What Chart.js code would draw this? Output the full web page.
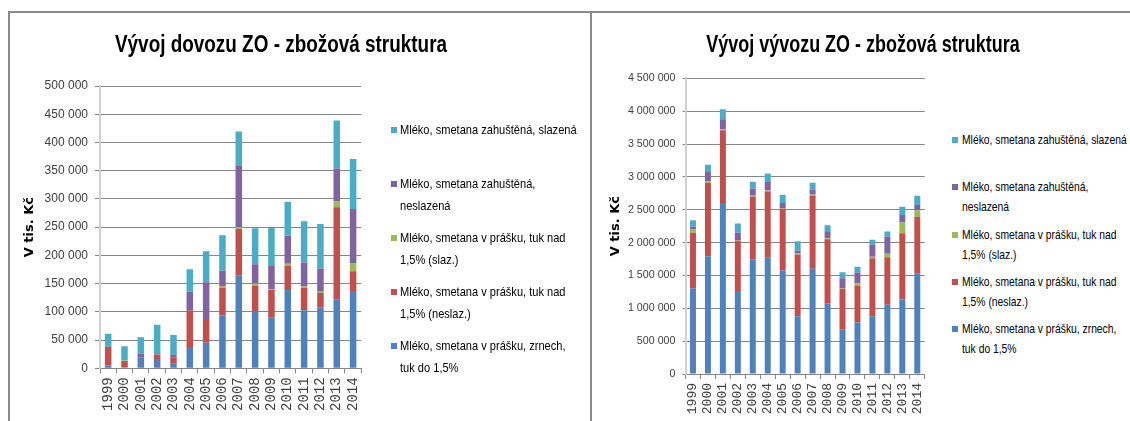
<!DOCTYPE html>
<html>
<head>
<meta charset="utf-8">
<script src="https://cdn.jsdelivr.net/npm/chart.js@4.4.0/dist/chart.umd.min.js"></script>
<style>
  html, body { margin: 0; padding: 0; background: #fff; }
  body { width: 1130px; height: 421px; overflow: hidden; position: relative; font-family: 'Liberation Sans', Arial, sans-serif; }
  .line { position: absolute; background: #8a8a8a; }
  #w1 { position: absolute; left: 9px; top: 12px; width: 365px; height: 409px; }
  #w2 { position: absolute; left: 593px; top: 12px; width: 344px; height: 409px; }
  .title { position: absolute; white-space: nowrap; color: #000; font-weight: bold; transform: translateX(-50%) scaleX(0.766); }
  #t1 { left: 281px; top: 32.4px; font-size: 24.7px; line-height: 24.7px; }
  #t2 { left: 863px; top: 33.2px; font-size: 23.44px; line-height: 23.44px; }
  .legend { position: absolute; color: #000; }
  .legend .item { display: flex; align-items: flex-start; }
  .legend .box { flex: none; width: 6px; height: 6px; }
  .legend .txt { transform: scaleX(0.82); transform-origin: 0 0; }
  #lg1 { left: 391px; top: 119px; font-size: 13.5px; }
  #lg1 .item { height: 44px; margin-bottom: 10px; }
  #lg1 .txt { line-height: 22px; width: 219px; margin-left: 3px; }
  #lg1 .box { margin-top: 8px; }
  #lg2 { left: 952px; top: 130px; font-size: 12.6px; }
  #lg2 .item { height: 40px; margin-bottom: 7.3px; }
  #lg2 .txt { line-height: 20px; width: 205px; margin-left: 4px; }
  #lg2 .box { margin-top: 7px; }
</style>
</head>
<body>
<div class="line" style="left:8px; top:11px; width:1122px; height:1.5px;"></div>
<div class="line" style="left:8px; top:11px; width:1.5px; height:410px;"></div>
<div class="line" style="left:590px; top:11px; width:2px; height:410px;"></div>
<div id="w1"><canvas id="c1"></canvas></div>
<div id="w2"><canvas id="c2"></canvas></div>
<div id="t1" class="title"></div>
<div id="t2" class="title"></div>
<div id="lg1" class="legend"></div>
<div id="lg2" class="legend"></div>
<script>
// ---- data ----
const years = ['1999','2000','2001','2002','2003','2004','2005','2006','2007','2008','2009','2010','2011','2012','2013','2014'];

const seriesNames = [
  'Mléko, smetana v prášku, zrnech, tuk do 1,5%',
  'Mléko, smetana v prášku, tuk nad 1,5% (neslaz.)',
  'Mléko, smetana v prášku, tuk nad 1,5% (slaz.)',
  'Mléko, smetana zahuštěná, neslazená',
  'Mléko, smetana zahuštěná, slazená'
];

// Dovoz (import), tis. Kč
const dovozZrnech   = [5000, 2000, 18700, 16400, 8200, 37600, 45200, 93600, 164800, 100000, 89400, 138800, 103000, 108300, 122400, 137000];
const dovozNeslaz   = [33000, 11000, 1500, 7600, 10500, 65000, 42000, 49000, 82000, 46600, 49400, 42400, 39400, 25000, 163000, 34800];
const dovozSlaz     = [0, 1000, 0, 0, 0, 0, 0, 3000, 3500, 3500, 1300, 4000, 3000, 2500, 10000, 13600];
const dovozZahNesl  = [0, 0, 6000, 1000, 5300, 33000, 65000, 27000, 108000, 34000, 42400, 50000, 42000, 40600, 58300, 96600];
const dovozZahSlaz  = [23000, 25000, 29000, 52000, 35000, 40000, 55000, 63000, 61000, 64000, 66000, 60000, 73000, 79400, 85000, 88800];

// Vývoz (export), tis. Kč
const vyvozZrnech   = [1305000, 1793000, 2601000, 1265000, 1747000, 1768000, 1575000, 878000, 1600000, 1076000, 675000, 782000, 878000, 1052000, 1133000, 1534000];
const vyvozNeslaz   = [845000, 1119000, 1108000, 762000, 951000, 1011000, 940000, 941000, 1118000, 976000, 621000, 564000, 884000, 725000, 1010000, 859000];
const vyvozSlaz     = [50000, 20000, 15000, 10000, 25000, 15000, 9000, 15000, 15000, 15000, 9000, 35000, 22000, 52000, 163000, 96000];
const vyvozZahNesl  = [40000, 153000, 152000, 117000, 97000, 127000, 77000, 46000, 76000, 107000, 152000, 163000, 182000, 259000, 112000, 81000];
const vyvozZahSlaz  = [100000, 100000, 153000, 137000, 107000, 132000, 127000, 142000, 102000, 91000, 92000, 87000, 77000, 81000, 127000, 143000];

const titleDovoz = 'Vývoj dovozu ZO - zbožová struktura';
const titleVyvoz = 'Vývoj vývozu ZO - zbožová struktura';
const axisTitle = 'V tis. Kč';

// ---- styling ----
const colors = ['#4F81BD', '#C0504D', '#9BBB59', '#8064A2', '#4BACC6'];
const fmt = v => String(v).replace(/\B(?=(\d{3})+(?!\d))/g, ' ');

function makeDatasets(arrays) {
  return arrays.map((arr, i) => ({
    label: seriesNames[i],
    data: arr,
    backgroundColor: colors[i],
    borderWidth: 0,
    barPercentage: 0.4,
    categoryPercentage: 1.0
  }));
}

function htmlLegend(id) {
  return {
    id: 'htmlLegend_' + id,
    afterUpdate(chart) {
      const el = document.getElementById(id);
      el.innerHTML = '';
      const items = Chart.defaults.plugins.legend.labels.generateLabels(chart).slice().reverse();
      items.forEach(it => {
        const row = document.createElement('div');
        row.className = 'item';
        const box = document.createElement('span');
        box.className = 'box';
        box.style.background = it.fillStyle;
        const txt = document.createElement('div');
        txt.className = 'txt';
        txt.textContent = it.text;
        row.appendChild(box);
        row.appendChild(txt);
        el.appendChild(row);
      });
    }
  };
}

function makeChart(canvasId, legendId, titleId, cfg) {
  document.getElementById(titleId).textContent = cfg.title;
  return new Chart(document.getElementById(canvasId), {
    type: 'bar',
    data: { labels: years, datasets: makeDatasets(cfg.series) },
    options: {
      responsive: true,
      maintainAspectRatio: false,
      animation: false,
      layout: { padding: { left: 0, right: cfg.padRight, top: cfg.padTop, bottom: 0 } },
      plugins: {
        legend: { display: false },
        tooltip: { enabled: false },
        title: { display: false }
      },
      scales: {
        x: {
          stacked: true,
          offset: true,
          grid: { offset: true, drawOnChartArea: false, drawTicks: true, tickLength: 5, color: '#868686', lineWidth: 1 },
          border: { display: true, color: '#868686', width: 1 },
          ticks: {
            autoSkip: false, minRotation: 90, maxRotation: 90, padding: 4,
            color: '#404040', font: { family: "'Liberation Mono', 'DejaVu Sans Mono', monospace", size: cfg.xFont }
          },
          afterFit: s => { s.height = cfg.xHeight; }
        },
        y: {
          stacked: true,
          min: 0,
          max: cfg.max,
          grid: { color: '#868686', lineWidth: 1, drawTicks: true, tickLength: cfg.yTick },
          border: { display: true, color: '#d0d0d0', width: 2 },
          ticks: {
            stepSize: cfg.step, padding: 7, color: '#404040',
            font: { family: "'Liberation Sans', Arial, sans-serif", size: cfg.yFont },
            callback: v => fmt(v)
          },
          title: {
            display: true, text: axisTitle, color: '#000',
            font: { family: "'DejaVu Sans', sans-serif", size: 13, weight: 'bold', lineHeight: 1.2 },
            padding: { top: cfg.yTitlePad, bottom: 0 }
          },
          afterFit: s => { s.width = cfg.yWidth; }
        }
      }
    },
    plugins: [htmlLegend(legendId)]
  });
}

makeChart('c1', 'lg1', 't1', {
  series: [dovozZrnech, dovozNeslaz, dovozSlaz, dovozZahNesl, dovozZahSlaz],
  title: titleDovoz,
  max: 500000, step: 50000,
  padTop: 74, padRight: 3.3, yWidth: 91, yTitlePad: 13.2, yTick: 5, yFont: 12,
  xHeight: 52.7, xFont: 14
});

makeChart('c2', 'lg2', 't2', {
  series: [vyvozZrnech, vyvozNeslaz, vyvozSlaz, vyvozZahNesl, vyvozZahSlaz],
  title: titleVyvoz,
  max: 4500000, step: 500000,
  padTop: 66.3, padRight: 4, yWidth: 92.5, yTitlePad: 15.2, yTick: 3, yFont: 10.7,
  xHeight: 47, xFont: 13
});
</script>
</body>
</html>
